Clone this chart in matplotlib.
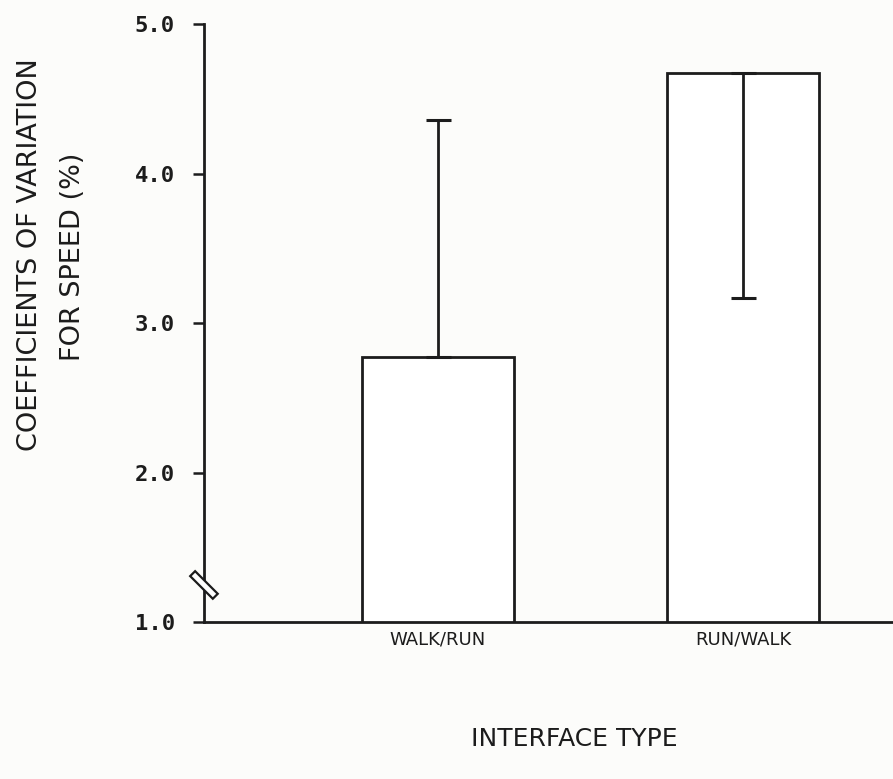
import numpy as np
import matplotlib
matplotlib.use("Agg")
import matplotlib.pyplot as plt
from matplotlib.patches import Polygon
from matplotlib.transforms import ScaledTranslation

# Coefficient of variation for speed (%) by gait interface
INTERFACES = ["WALK/RUN", "RUN/WALK"]
CV_MEAN    = [2.77, 4.67]
SD_UP      = [1.59, 0.0]    # walk/run: SD drawn upward only
SD_DOWN    = [0.0, 1.50]    # run/walk: SD drawn downward only
Y_TICKS    = [1.0, 2.0, 3.0, 4.0, 5.0]

INK = "#1c1c1c"
PAPER = "#fcfcfa"

fig = plt.figure(figsize=(8.93, 7.79), dpi=100, facecolor=PAPER)
ax = fig.add_axes([0.2284, 0.2015, 0.7716, 0.7677])
ax.set_facecolor(PAPER)

x = np.arange(len(INTERFACES))
ax.bar(x, CV_MEAN, width=0.5, color="white", edgecolor=INK, linewidth=2.0, zorder=2)
ax.errorbar(x, CV_MEAN, yerr=[SD_DOWN, SD_UP], fmt="none", ecolor=INK,
            elinewidth=2.0, capsize=9, capthick=2.2, zorder=3)

ax.set_xlim(-0.767, 1.492)
ax.set_ylim(1.0, 5.0)

for side in ("top", "right"):
    ax.spines[side].set_visible(False)
for side in ("left", "bottom"):
    ax.spines[side].set_color(INK)
    ax.spines[side].set_linewidth(2.0)

ax.set_yticks(Y_TICKS)
ax.set_yticklabels([f"{v:.1f}" for v in Y_TICKS], fontfamily="DejaVu Sans Mono",
                   fontweight="bold", fontsize=16, color=INK)
ax.tick_params(axis="y", direction="out", length=8, width=1.8, pad=13, color=INK)

ax.set_xticks(x)
ax.set_xticklabels(INTERFACES, fontsize=13, color=INK)
ax.tick_params(axis="x", length=0, pad=6)

# axis break marker across the y spine
w, h = 0.16, 0.035
verts = [(-w - h, w - h), (w - h, -w - h), (w + h, -w + h), (-w + h, w + h)]
verts = [(a / np.sqrt(2), b / np.sqrt(2)) for a, b in verts]
brk_trans = fig.dpi_scale_trans + ScaledTranslation(0.0, 0.062, ax.transAxes)
ax.add_patch(Polygon(verts, closed=True, facecolor="white", edgecolor=INK,
                     linewidth=1.6, transform=brk_trans, clip_on=False, zorder=5))

fig.text(30 / 893, 1 - 255 / 779, "COEFFICIENTS OF VARIATION", rotation=90,
         ha="center", va="center", fontsize=19.5, color=INK)
fig.text(73 / 893, 1 - 257 / 779, "FOR SPEED (%)", rotation=90,
         ha="center", va="center", fontsize=19.5, color=INK)
fig.text(574 / 893, 1 - 739 / 779, "INTERFACE TYPE",
         ha="center", va="center", fontsize=18, color=INK)

fig.savefig("out.png", dpi=100, facecolor=PAPER)
